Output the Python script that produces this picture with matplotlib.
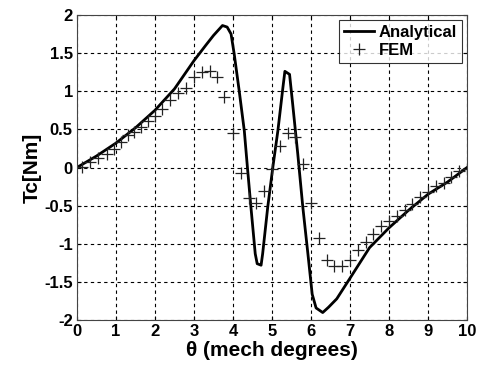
import numpy as np
import matplotlib
matplotlib.use("Agg")
import matplotlib.pyplot as plt

# analytical cogging torque
ana_x = [0.0, 0.5, 1.0, 1.5, 2.0, 2.5, 3.0, 3.3, 3.5, 3.73, 3.85, 3.95, 4.03, 4.16,
         4.29, 4.37, 4.46, 4.57, 4.62, 4.72, 4.76, 4.89, 5.02, 5.15, 5.28, 5.33,
         5.45, 5.53, 5.66, 5.79, 5.92, 6.03, 6.13, 6.3, 6.45, 6.66, 7.0, 7.5, 8.0,
         8.5, 9.0, 9.5, 10.0]
ana_y = [0.0, 0.15, 0.32, 0.52, 0.75, 1.03, 1.40, 1.60, 1.73, 1.86, 1.84, 1.75, 1.49,
         1.0, 0.48, 0.0, -0.52, -1.13, -1.26, -1.28, -1.13, -0.52, 0.0, 0.48, 1.05,
         1.26, 1.22, 0.83, 0.18, -0.52, -1.13, -1.66, -1.84, -1.9, -1.83, -1.72,
         -1.45, -1.05, -0.79, -0.56, -0.35, -0.19, 0.0]

# FEM samples
fem_x = [0.12, 0.33, 0.55, 0.76, 0.95, 1.14, 1.3, 1.46, 1.63, 1.83, 2.0, 2.18, 2.38,
         2.6, 2.8, 3.0, 3.2, 3.4, 3.6, 3.78, 4.0, 4.2, 4.4, 4.6, 4.8, 5.0, 5.2, 5.4,
         5.6, 5.8, 6.0, 6.2, 6.4, 6.6, 6.8, 7.0, 7.2, 7.4, 7.6, 7.8, 8.0, 8.2, 8.4,
         8.6, 8.8, 9.0, 9.2, 9.4, 9.6, 9.8, 10.0]
fem_y = [0.01, 0.07, 0.13, 0.18, 0.24, 0.33, 0.42, 0.46, 0.53, 0.61, 0.68, 0.77, 0.88,
         0.97, 1.04, 1.18, 1.25, 1.26, 1.18, 0.93, 0.45, -0.07, -0.40, -0.46, -0.31,
         -0.02, 0.28, 0.45, 0.40, 0.04, -0.47, -0.93, -1.21, -1.29, -1.29, -1.21,
         -1.08, -0.98, -0.87, -0.77, -0.70, -0.63, -0.56, -0.48, -0.39, -0.32, -0.24,
         -0.20, -0.13, -0.05, -0.02]

x_ticks = list(range(0, 11))
y_ticks = [-2, -1.5, -1, -0.5, 0, 0.5, 1, 1.5, 2]
y_labels = ['-2', '-1.5', '-1', '-0.5', '0', '0.5', '1', '1.5', '2']

plt.rcParams.update({
    'font.family': 'Liberation Sans',
    'font.weight': 'bold',
    'font.size': 12,
})

fig = plt.figure(figsize=(4.84, 3.71), dpi=100)
ax = fig.add_axes([0.159, 0.137, 0.806, 0.823])

ax.plot(ana_x, ana_y, color='black', linewidth=2.0, label='Analytical')
ax.plot(fem_x, fem_y, linestyle='none', marker='+', markersize=9,
        markeredgewidth=0.9, color='#222222', label='FEM')

ax.set_xlim(0, 10)
ax.set_ylim(-2, 2)
ax.set_xticks(x_ticks)
ax.set_yticks(y_ticks)
ax.set_yticklabels(y_labels)
ax.tick_params(direction='in', length=3, top=True, right=True, pad=3)
ax.grid(True, color='black', linestyle=(0, (3, 3)), linewidth=0.8)
for s in ax.spines.values():
    s.set_linewidth(0.8)
    s.set_color('#444444')

ax.set_xlabel('θ (mech degrees)', fontsize=15, fontweight='bold', labelpad=1)
ax.set_ylabel('Tc[Nm]', fontsize=15, fontweight='bold', labelpad=2)

leg = ax.legend(loc='upper right', fontsize=12, frameon=True, fancybox=False,
                borderaxespad=0.3, handlelength=1.8, handletextpad=0.3,
                borderpad=0.3, labelspacing=0.2)
leg.get_frame().set_edgecolor('black')
leg.get_frame().set_linewidth(0.8)

fig.savefig('out.png', dpi=100)
